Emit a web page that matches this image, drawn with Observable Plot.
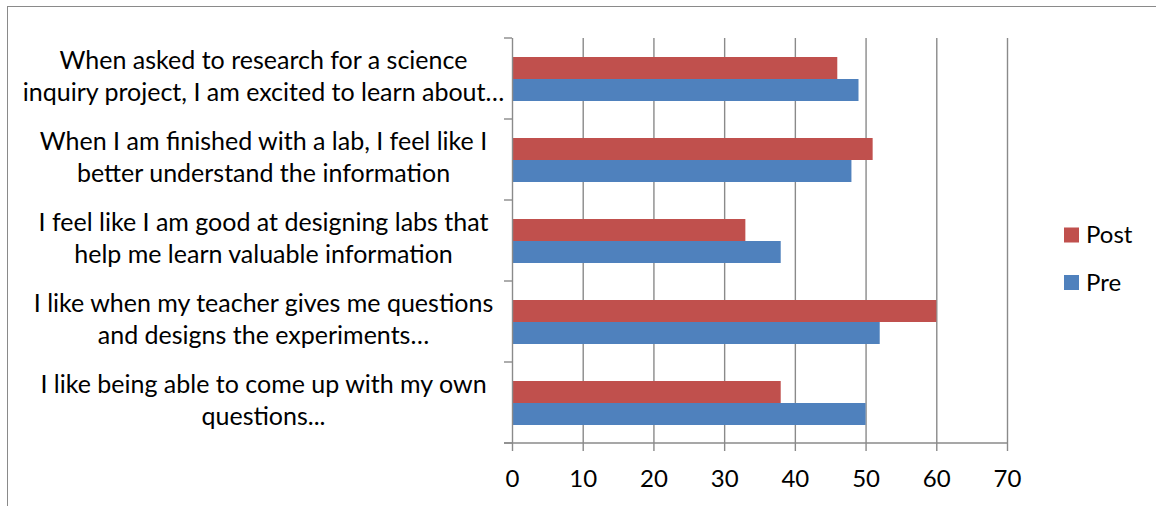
<!DOCTYPE html>
<html>
<head>
<meta charset="utf-8">
<script src="https://cdn.jsdelivr.net/npm/d3@7"></script>
<script src="https://cdn.jsdelivr.net/npm/@observablehq/plot@0.6"></script>
<style>
  body { margin: 0; background: #fff; }
  #chart { position: relative; width: 1156px; height: 506px; overflow: hidden; }
  #border { position: absolute; left: 7px; top: 6px; width: 1200px; height: 600px;
            border-left: 1.5px solid #8a8a8a; border-top: 1.5px solid #8a8a8a; pointer-events: none; }
</style>
</head>
<body>
<div id="chart"><div id="border"></div></div>
<script>
const categories = [
  "When asked to research for a science\ninquiry project, I am excited to learn about…",
  "When I am finished with a lab, I feel like I\nbetter understand the information",
  "I feel like I am good at designing labs that\nhelp me learn valuable information",
  "I like when my teacher gives me questions\nand designs the experiments…",
  "I like being able to come up with my own\nquestions..."
];
const series = ["Post", "Pre"];
const postValues = [46, 51, 33, 60, 38];
const preValues = [49, 48, 38, 52, 50];
const xTicks = [0, 10, 20, 30, 40, 50, 60, 70];
const colors = ["#C0504D", "#4F81BD"];

const data = categories.flatMap((c, i) => [
  {category: c, series: "Post", value: postValues[i]},
  {category: c, series: "Pre", value: preValues[i]}
]);

const gridColor = "#8a8a8a";
const font = "Lato, 'Open Sans', sans-serif";

const plot = Plot.plot({
  width: 1156,
  height: 506,
  marginLeft: 512,
  marginRight: 149,
  marginTop: 36,
  marginBottom: 62,
  style: {fontFamily: font, fontSize: "24px", color: "#000", background: "transparent", overflow: "visible"},
  x: {domain: [0, 70], ticks: xTicks, label: null},
  fy: {domain: categories, padding: 0, axis: null, label: null},
  y: {domain: series, paddingInner: 0, paddingOuter: 0.774, axis: null, label: null},
  color: {domain: series, range: colors},
  marks: [
    Plot.gridX(xTicks.filter(d => d > 0), {stroke: gridColor, strokeOpacity: 1, strokeWidth: 1.4}),
    Plot.barX(data, {fy: "category", y: "series", x: "value", fill: "series"}),
    Plot.ruleX([0], {stroke: gridColor, strokeWidth: 1.4}),
    Plot.axisX(xTicks, {tickSize: 8, tickPadding: 18, stroke: gridColor, strokeWidth: 1.4, fontSize: 24, fill: "#000", label: null}),
    Plot.text(categories, {fy: d => d, text: d => d, frameAnchor: "left", dx: -249, dy: -4, textAnchor: "middle", lineHeight: 1.28, fontSize: 25, fill: "#000"})
  ]
});

document.getElementById("chart").appendChild(plot);

// axis line and category boundary ticks, positioned with the plot's own scales
const xs = plot.scale("x");
const fys = plot.scale("fy");
const svg = d3.select(plot);
const x0 = xs.apply(0), x70 = xs.apply(70);
const bounds = categories.map(c => fys.apply(c)).concat([fys.apply(categories[categories.length - 1]) + fys.bandwidth]);
const g = svg.append("g").attr("stroke", gridColor).attr("stroke-width", 1.4);
bounds.forEach(y => g.append("line").attr("x1", x0 - 8).attr("x2", x0).attr("y1", y).attr("y2", y));
const yb = bounds[bounds.length - 1];
g.append("line").attr("x1", x0 - 8).attr("x2", x70).attr("y1", yb).attr("y2", yb);

// legend
const cs = plot.scale("color");
const leg = svg.append("g").attr("font-family", font).attr("font-size", 24).attr("text-anchor", "start");
series.forEach((s, i) => {
  const y = 235 + i * 47.5;
  leg.append("rect").attr("x", 1064).attr("y", y - 7.5).attr("width", 15).attr("height", 15).attr("fill", cs.apply(s));
  leg.append("text").attr("x", 1086).attr("y", y).attr("dy", "0.35em").attr("fill", "#000").text(s);
});
</script>
</body>
</html>
